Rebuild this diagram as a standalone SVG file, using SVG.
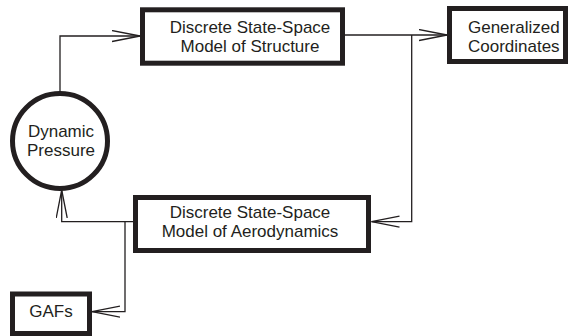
<svg xmlns="http://www.w3.org/2000/svg" width="570" height="336" viewBox="0 0 570 336">
<style>
.box{fill:#fff;stroke:#231f20;stroke-width:5}
.lbl{font-family:"Liberation Sans",Arial,sans-serif;font-size:17px;fill:#231f20;text-anchor:middle}
.conn{fill:none;stroke:#231f20;stroke-width:1.3}
</style>
<defs>
<marker id="arr" markerUnits="userSpaceOnUse" markerWidth="32" markerHeight="14" refX="28" refY="6" orient="auto">
<path d="M0,0.5 L28,6 L0,11.5" fill="none" stroke="#231f20" stroke-width="1.3"/>
</marker>
</defs>
<rect width="570" height="336" fill="#fff"/>
<g id="connectors">
<path class="conn" d="M60,93 L60,36 L140,36" marker-end="url(#arr)"/>
<path class="conn" d="M345,35 L447,35" marker-end="url(#arr)"/>
<path class="conn" d="M411.7,35 L411.7,221.7 L371.5,221.7" marker-end="url(#arr)"/>
<path class="conn" d="M133,221.7 L61.7,221.7 L61.7,190" marker-end="url(#arr)"/>
<path class="conn" d="M125,221.7 L125,311.7 L92,311.7" marker-end="url(#arr)"/>
</g>
<g id="structure">
<rect class="box" x="142.5" y="9.8" width="200" height="53.4"/>
<text class="lbl" x="250" y="33.3">Discrete State-Space</text>
<text class="lbl" x="250" y="52.3">Model of Structure</text>
</g>
<g id="generalized">
<rect class="box" x="449.5" y="8.5" width="116" height="53"/>
<text class="lbl" x="513.8" y="33.3">Generalized</text>
<text class="lbl" x="513.8" y="51.7">Coordinates</text>
</g>
<g id="pressure">
<circle class="box" cx="60" cy="141" r="47.5"/>
<text class="lbl" x="61" y="137.3">Dynamic</text>
<text class="lbl" x="61" y="155.5">Pressure</text>
</g>
<g id="aero">
<rect class="box" x="135.5" y="197.5" width="233" height="53"/>
<text class="lbl" x="250" y="218.3">Discrete State-Space</text>
<text class="lbl" x="250" y="236.7">Model of Aerodynamics</text>
</g>
<g id="gafs">
<rect class="box" x="12.5" y="294" width="77" height="39.5"/>
<text class="lbl" x="51" y="316.7">GAFs</text>
</g>
</svg>
